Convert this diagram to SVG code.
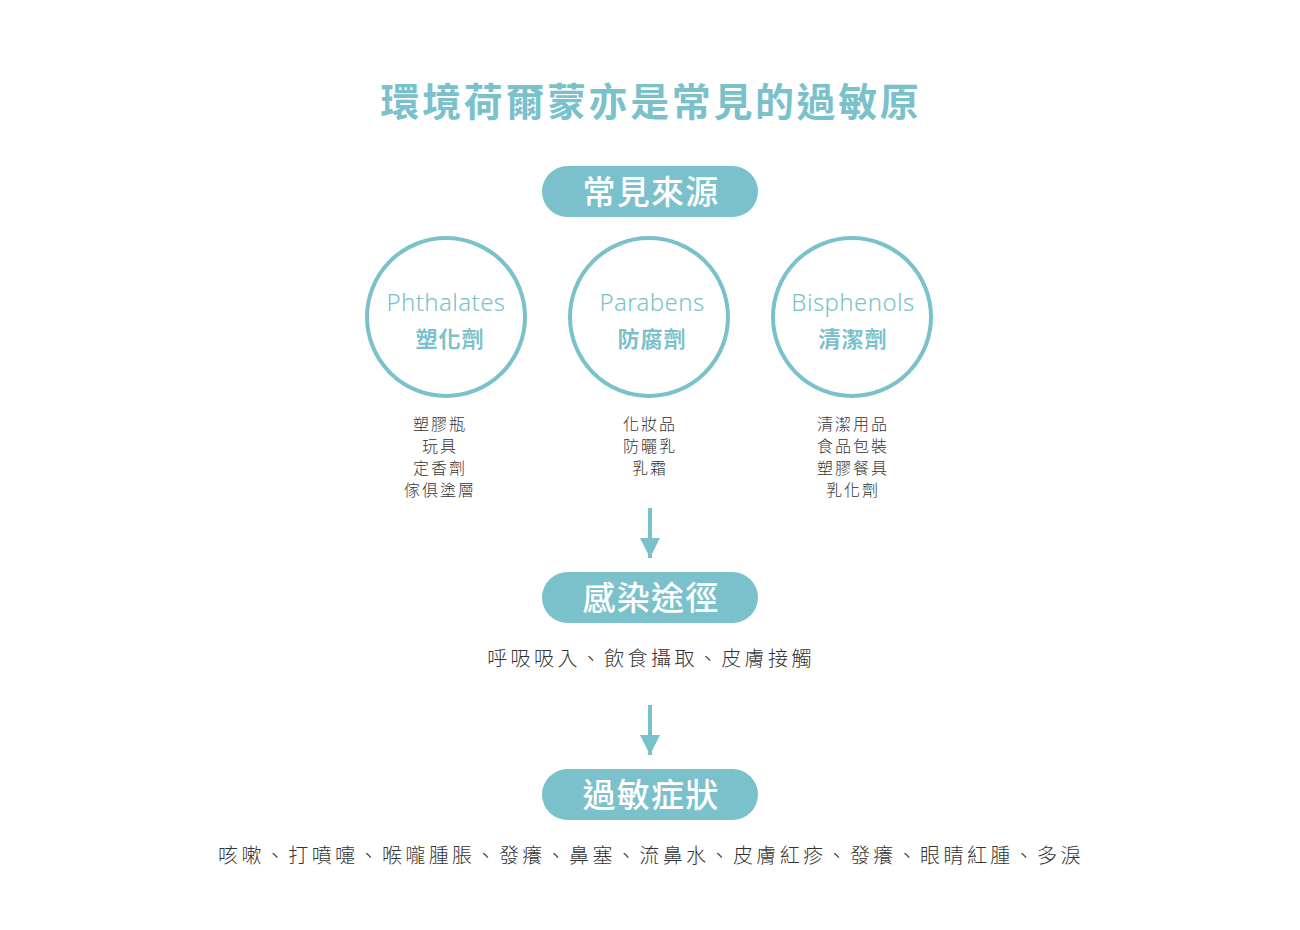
<svg xmlns="http://www.w3.org/2000/svg" width="1300" height="930" viewBox="0 0 1300 930">
<style>
.cjk{font-family:"Noto Sans CJK TC","Noto Sans CJK SC",sans-serif}
.title{font-size:39px;font-weight:700;fill:#7AC1CB;letter-spacing:2.6px}
.pill{fill:#7AC1CB}
.pilltxt{font-size:33px;font-weight:500;fill:#fff;letter-spacing:1.3px}
.circ{fill:none;stroke:#7AC1CB;stroke-width:4}
.en{font-family:"Noto Sans","Open Sans",sans-serif;font-size:24px;font-weight:300;fill:#7AC1CB;letter-spacing:0.4px}
.zh{font-size:22px;font-weight:700;fill:#7AC1CB;letter-spacing:1px}
.list{font-size:16px;font-weight:300;fill:#333;letter-spacing:2px}
.body{font-size:20px;font-weight:300;fill:#333;letter-spacing:3.4px}
.conn{stroke:#7AC1CB;stroke-width:4}
</style>
<defs>
<marker id="ah" viewBox="0 0 10 10" refX="10" refY="5" markerWidth="5" markerHeight="5" markerUnits="strokeWidth" orient="auto">
<path d="M0,0 L10,5 L0,10 z" fill="#7AC1CB"/>
</marker>
</defs>
<rect width="1300" height="930" fill="#fff"/>
<text class="cjk title" x="651" y="116" text-anchor="middle">環境荷爾蒙亦是常見的過敏原</text>

<g id="sources">
<rect class="pill" x="542" y="166" width="216" height="51" rx="25.5"/>
<text class="cjk pilltxt" x="651" y="204" text-anchor="middle">常見來源</text>
</g>

<g id="phthalates">
<circle class="circ" cx="446" cy="317" r="79"/>
<text class="en" x="446" y="311" text-anchor="middle">Phthalates</text>
<text class="cjk zh" x="450" y="347" text-anchor="middle">塑化劑</text>
<text class="cjk list" text-anchor="middle"><tspan x="440" y="430">塑膠瓶</tspan><tspan x="440" y="452">玩具</tspan><tspan x="440" y="474">定香劑</tspan><tspan x="440" y="496">傢俱塗層</tspan></text>
</g>

<g id="parabens">
<circle class="circ" cx="649" cy="317" r="79"/>
<text class="en" x="652" y="311" text-anchor="middle">Parabens</text>
<text class="cjk zh" x="652" y="347" text-anchor="middle">防腐劑</text>
<text class="cjk list" text-anchor="middle"><tspan x="650" y="430">化妝品</tspan><tspan x="650" y="452">防曬乳</tspan><tspan x="650" y="474">乳霜</tspan></text>
</g>

<g id="bisphenols">
<circle class="circ" cx="852" cy="317" r="79"/>
<text class="en" x="853" y="311" text-anchor="middle">Bisphenols</text>
<text class="cjk zh" x="853" y="347" text-anchor="middle">清潔劑</text>
<text class="cjk list" text-anchor="middle"><tspan x="853" y="430">清潔用品</tspan><tspan x="853" y="452">食品包裝</tspan><tspan x="853" y="474">塑膠餐具</tspan><tspan x="853" y="496">乳化劑</tspan></text>
</g>

<g id="connectors">
<line class="conn" x1="650" y1="508" x2="650" y2="558" marker-end="url(#ah)"/>
<line class="conn" x1="650" y1="705" x2="650" y2="755" marker-end="url(#ah)"/>
</g>

<g id="routes">
<rect class="pill" x="542" y="572" width="216" height="51" rx="25.5"/>
<text class="cjk pilltxt" x="651" y="610" text-anchor="middle">感染途徑</text>
<text class="cjk body" x="651" y="666" text-anchor="middle">呼吸吸入、飲食攝取、皮膚接觸</text>
</g>

<g id="symptoms">
<rect class="pill" x="542" y="769" width="216" height="51" rx="25.5"/>
<text class="cjk pilltxt" x="651" y="807" text-anchor="middle">過敏症狀</text>
<text class="cjk body" x="651" y="863" text-anchor="middle">咳嗽、打噴嚏、喉嚨腫脹、發癢、鼻塞、流鼻水、皮膚紅疹、發癢、眼睛紅腫、多淚</text>
</g>
</svg>
